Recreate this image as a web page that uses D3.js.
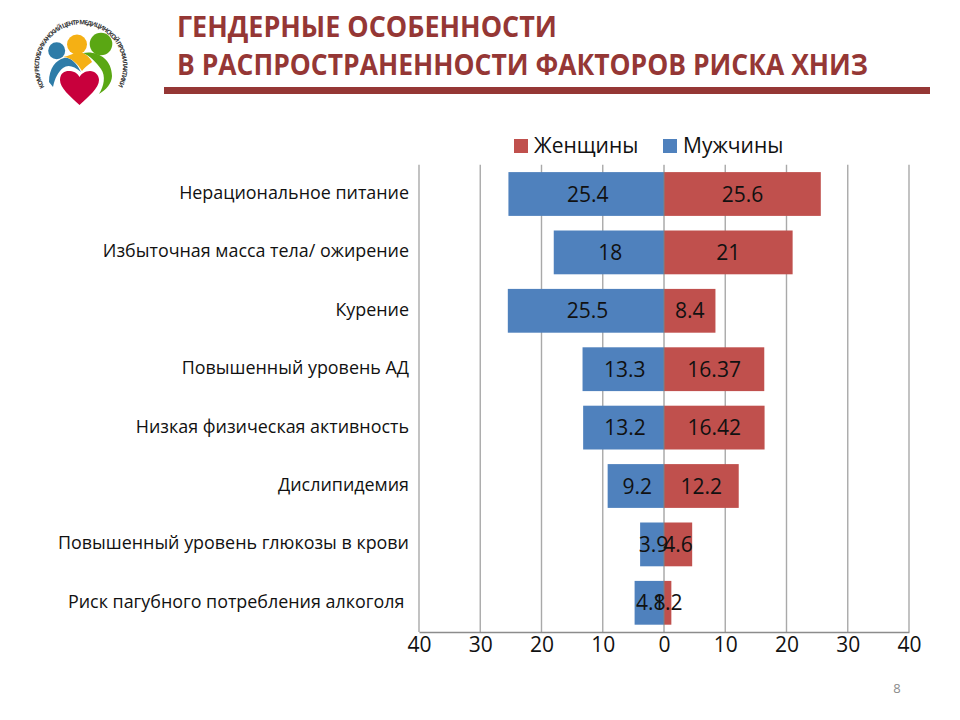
<!DOCTYPE html>
<html>
<head>
<meta charset="utf-8">
<script src="https://cdn.jsdelivr.net/npm/d3@7"></script>
<style>
  body { margin: 0; background: #fff; }
  svg { display: block; }
  text { font-family: "Open Sans", sans-serif; }
</style>
</head>
<body>
<svg id="chart" width="960" height="720"></svg>
<script>
const categories = [
  "Нерациональное питание",
  "Избыточная масса тела/ ожирение",
  "Курение",
  "Повышенный уровень АД",
  "Низкая физическая активность",
  "Дислипидемия",
  "Повышенный уровень глюкозы в крови",
  "Риск пагубного потребления алкоголя "
];
const men = [25.4, 18, 25.5, 13.3, 13.2, 9.2, 3.9, 4.8];
const women = [25.6, 21, 8.4, 16.37, 16.42, 12.2, 4.6, 1.2];
const ticks = [-40, -30, -20, -10, 0, 10, 20, 30, 40];
const titleLines = ["ГЕНДЕРНЫЕ ОСОБЕННОСТИ", "В РАСПРОСТРАНЕННОСТИ ФАКТОРОВ РИСКА ХНИЗ"];
const legendItems = ["Женщины", "Мужчины"];

const colors = { women: "#c0504d", men: "#4f81bd", title: "#953735", grid: "#a9a9a9" };
const svg = d3.select("#chart");

// Scales
const x = d3.scaleLinear().domain([-40, 40]).range([419, 909]);
const y = d3.scaleBand().domain(categories).range([164.8, 632]).paddingInner(0.25).paddingOuter(0.125);

// Header
svg.selectAll(".title")
  .data(titleLines)
  .enter()
  .append("text")
  .attr("class", "title")
  .attr("x", 177)
  .attr("y", (d, i) => 37 + i * 38)
  .attr("textLength", (d, i) => i === 0 ? 380 : 691)
  .attr("lengthAdjust", "spacingAndGlyphs")
  .attr("fill", colors.title)
  .attr("font-size", 28)
  .attr("font-weight", 700)
  .text(d => d);

svg.append("rect")
  .attr("x", 164).attr("y", 87)
  .attr("width", 766).attr("height", 7)
  .attr("fill", colors.title);

// Logo
const logo = svg.append("g").attr("class", "logo");
logo.append("defs").append("path")
  .attr("id", "logoArc")
  .attr("d", "M 45 88 A 42 42 0 1 1 117 88");
logo.append("text")
  .attr("font-size", 6.2)
  .attr("font-weight", 700)
  .attr("fill", "#333")
  .append("textPath")
  .attr("href", "#logoArc")
  .attr("startOffset", 1)
  .attr("textLength", 174)
  .text("КОМУ РЕСПУБЛИКАНСКИЙ ЦЕНТР МЕДИЦИНСКОЙ ПРОФИЛАКТИКИ");
logo.append("path")
  .attr("d", "M 49 82 C 49 68 56 60 64 58 C 70 57 76 62 81 72 C 74 66 68 64 63 68 C 58 72 55 78 53 87 Z")
  .attr("fill", "#2e7ca8");
logo.append("path")
  .attr("d", "M 63 57 C 70 56 74 52 83 53 C 88 55 91 60 92 62 C 88 65 84 68 82 71 C 78 64 71 57 63 57 Z")
  .attr("fill", "#f5b014");
logo.append("path")
  .attr("d", "M 83 53 C 96 50 112 58 112 76 C 112 83 106 90 99 94 C 104 86 106 76 101 69 C 96 62 90 56 83 53 Z")
  .attr("fill", "#5aa713");
logo.append("circle").attr("cx", 56.7).attr("cy", 50.7).attr("r", 8.5).attr("fill", "#2e7ca8");
logo.append("circle").attr("cx", 77).attr("cy", 44.5).attr("r", 10).attr("fill", "#f5b014");
logo.append("circle").attr("cx", 101).attr("cy", 44).attr("r", 11.3).attr("fill", "#5aa713");
logo.append("path")
  .attr("d", "M 79.5 105 C 70 96 60 88 60 80 C 60 72 66 70.5 70 71 C 75 71.5 78 74 79.5 77 C 81 74 85 71 90 71 C 95 71 99 75 99 80 C 99 88 89 96 79.5 105 Z")
  .attr("fill", "#c8003c");

// Legend
const legend = svg.selectAll(".legend")
  .data(legendItems)
  .enter()
  .append("g")
  .attr("class", "legend")
  .attr("transform", (d, i) => `translate(${i === 0 ? 514 : 663}, 139)`);
legend.append("rect")
  .attr("width", 14).attr("height", 14)
  .attr("fill", (d, i) => i === 0 ? colors.women : colors.men);
legend.append("text")
  .attr("x", 20).attr("y", 13.5)
  .attr("font-size", 21)
  .attr("fill", "#111")
  .text(d => d);

// Grid
svg.selectAll(".grid")
  .data(ticks.filter(d => d !== 0))
  .enter()
  .append("line")
  .attr("class", "grid")
  .attr("x1", d => x(d)).attr("x2", d => x(d))
  .attr("y1", y.range()[0]).attr("y2", y.range()[1])
  .attr("stroke", colors.grid)
  .attr("stroke-width", 1.4);

// Bars
svg.selectAll(".bar-men")
  .data(men)
  .enter()
  .append("rect")
  .attr("class", "bar-men")
  .attr("x", d => x(-d))
  .attr("y", (d, i) => y(categories[i]))
  .attr("width", d => x(0) - x(-d))
  .attr("height", y.bandwidth())
  .attr("fill", colors.men);

svg.selectAll(".bar-women")
  .data(women)
  .enter()
  .append("rect")
  .attr("class", "bar-women")
  .attr("x", x(0))
  .attr("y", (d, i) => y(categories[i]))
  .attr("width", d => x(d) - x(0))
  .attr("height", y.bandwidth())
  .attr("fill", colors.women);

// Axis
const axis = d3.axisBottom(x)
  .tickValues(ticks)
  .tickFormat(d => Math.abs(d))
  .tickSize(0)
  .tickPadding(5);
const axisG = svg.append("g")
  .attr("transform", `translate(0, ${y.range()[1]})`)
  .call(axis);
axisG.select(".domain").attr("stroke", "#8c8c8c").attr("stroke-width", 1.4);
axisG.selectAll("text")
  .attr("font-size", 21)
  .attr("fill", "#111")
  .style("font-family", '"Open Sans", sans-serif');

svg.append("line")
  .attr("x1", x(0)).attr("x2", x(0))
  .attr("y1", y.range()[0]).attr("y2", y.range()[1])
  .attr("stroke", "#808080")
  .attr("stroke-width", 1);

// Category labels
svg.selectAll(".cat")
  .data(categories)
  .enter()
  .append("text")
  .attr("class", "cat")
  .attr("x", 409)
  .attr("y", d => y(d) + y.bandwidth() / 2 + 5)
  .attr("text-anchor", "end")
  .attr("font-size", 17.9)
  .attr("fill", "#111")
  .style("white-space", "pre")
  .text(d => d);

// Value labels
svg.selectAll(".val-men")
  .data(men)
  .enter()
  .append("text")
  .attr("class", "val-men")
  .attr("x", d => (x(-d) + x(0)) / 2 + 1.5)
  .attr("y", (d, i) => y(categories[i]) + y.bandwidth() / 2 + 7.5)
  .attr("text-anchor", "middle")
  .attr("font-size", 21)
  .attr("fill", "#111")
  .text(d => d);

svg.selectAll(".val-women")
  .data(women)
  .enter()
  .append("text")
  .attr("class", "val-women")
  .attr("x", d => (x(d) + x(0)) / 2)
  .attr("y", (d, i) => y(categories[i]) + y.bandwidth() / 2 + 7.5)
  .attr("text-anchor", "middle")
  .attr("font-size", 21)
  .attr("fill", "#111")
  .text(d => d);

// Page number
svg.append("text")
  .attr("x", 897).attr("y", 693)
  .attr("text-anchor", "middle")
  .attr("font-size", 13)
  .attr("fill", "#8b8b8b")
  .text("8");
</script>
</body>
</html>
